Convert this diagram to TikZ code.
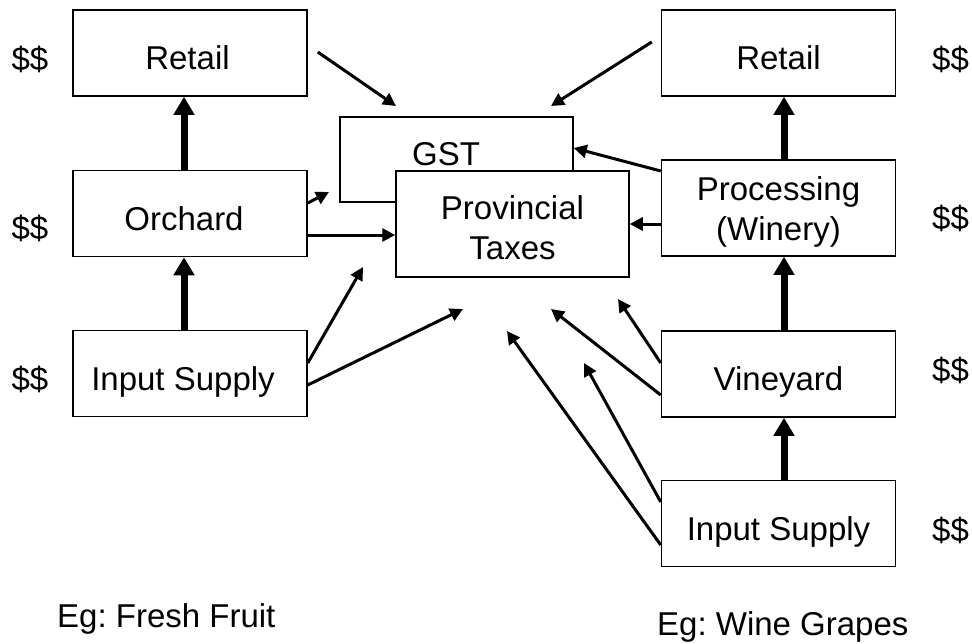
\documentclass[tikz,border=0pt]{standalone}
\usepackage{fontspec}
\setmainfont{Liberation Sans}
\usetikzlibrary{arrows.meta,calc}
\frenchspacing

\tikzset{
  stage/.style={draw, line width=1.5pt, fill=white, minimum width=234pt,
    minimum height=86pt, inner sep=0pt, font=\fontsize{33}{40}\selectfont},
  oneline/.style={text height=34pt, text depth=1pt},
  lbl/.style={inner sep=0pt, font=\fontsize{33}{40}\selectfont},
  tax/.style={line width=3pt, -{Triangle[length=13pt,width=13pt]}},
  flow/.style={line width=7pt, -{Triangle[length=18pt,width=20pt]}}
}

\begin{document}
\begin{tikzpicture}[x=1pt,y=1pt,yscale=-1,xscale=1]
\useasboundingbox (0,0) rectangle (972,643);

% Fresh fruit chain
\node[stage,oneline] (lretail) at (190,53) {Retail\kern5pt};
\node[stage,oneline] (lorchard) at (190,213.5) {Orchard\kern12pt};
\node[stage,oneline] (lsupply) at (190,373.5) {Input Supply\kern14pt};

% Wine grape chain
\node[stage,oneline] (rretail) at (778.5,53) {Retail};
\node[stage,align=center,minimum height=96pt] (rproc) at (778.5,208) {\rule{0pt}{31pt}Processing\\(Winery)};
\node[stage,oneline] (rvine) at (778.5,374) {Vineyard};
\node[stage,oneline] (rsupply) at (778.5,523.5) {Input Supply};

% Taxes
\node[stage,minimum width=233pt,minimum height=85pt] (gst) at (456.5,159.5) {};
\node[lbl] (gsttext) at (446,154.5) {GST};
\node[stage,align=center,minimum width=233pt,minimum height=106pt] (prov) at (512.5,224) {\rule{0pt}{32pt}Provincial\\Taxes};

% Text Node
\node[lbl] (lcash1) at (30,59.5) {\$\$};
\node[lbl] (lcash2) at (30,228.5) {\$\$};
\node[lbl] (lcash3) at (30,379.5) {\$\$};
\node[lbl] (rcash1) at (950.5,59.5) {\$\$};
\node[lbl] (rcash2) at (950.5,218.5) {\$\$};
\node[lbl] (rcash3) at (950.5,370.5) {\$\$};
\node[lbl] (rcash4) at (950.5,530) {\$\$};
\node[lbl,anchor=base west] (fruit) at (57,627) {Eg: Fresh Fruit};
\node[lbl,anchor=base west] (grapes) at (657,635) {Eg: Wine Grapes};

% free arrow ends
\coordinate (lretailtip) at (396,106);
\coordinate (rretailtip) at (551,106);
\coordinate (lorchardtip) at (329,192);
\coordinate (lsupplytip1) at (363,267);
\coordinate (lsupplytip2) at (463,309);
\coordinate (rvinetip1) at (618,299);
\coordinate (rvinetip2) at (551,309);
\coordinate (rsupplytip1) at (584,363);
\coordinate (rsupplytip2) at (507,331);

% tax arrows
\draw[tax] ($(lretail.east)+(10,-1)$) -- (lretailtip);
\draw[tax] ($(rretail.west)+(-9,-11)$) -- (rretailtip);
\draw[tax] ($(lorchard.east)+(0,-10.5)$) -- (lorchardtip);
\draw[tax] ($(lorchard.east)+(0,21.5)$) -- ($(prov.west)+(0,11)$);
\draw[tax] ($(rproc.west)+(0,-37)$) -- ($(gst.east)+(0,-11.5)$);
\draw[tax] ($(rproc.west)+(0,16)$) -- (prov.east);
\draw[tax] ($(lsupply.east)+(0,-10.5)$) -- (lsupplytip1);
\draw[tax] ($(lsupply.east)+(0,11.5)$) -- (lsupplytip2);
\draw[tax] ($(rvine.west)+(0,-11)$) -- (rvinetip1);
\draw[tax] ($(rvine.west)+(0,21)$) -- (rvinetip2);
\draw[tax] ($(rsupply.west)+(0,-21.5)$) -- (rsupplytip1);
\draw[tax] ($(rsupply.west)+(0,21.5)$) -- (rsupplytip2);

% value chain arrows
\draw[flow] ($(lsupply.north)+(-6,0)$) -- ($(lorchard.south)+(-6,0)$);
\draw[flow] ($(lorchard.north)+(-6,0)$) -- ($(lretail.south)+(-6,0)$);
\draw[flow] ($(rsupply.north)+(5.5,0)$) -- ($(rvine.south)+(5.5,0)$);
\draw[flow] ($(rvine.north)+(5.5,0)$) -- ($(rproc.south)+(5.5,0)$);
\draw[flow] ($(rproc.north)+(5.5,0)$) -- ($(rretail.south)+(5.5,0)$);

\end{tikzpicture}
\end{document}
